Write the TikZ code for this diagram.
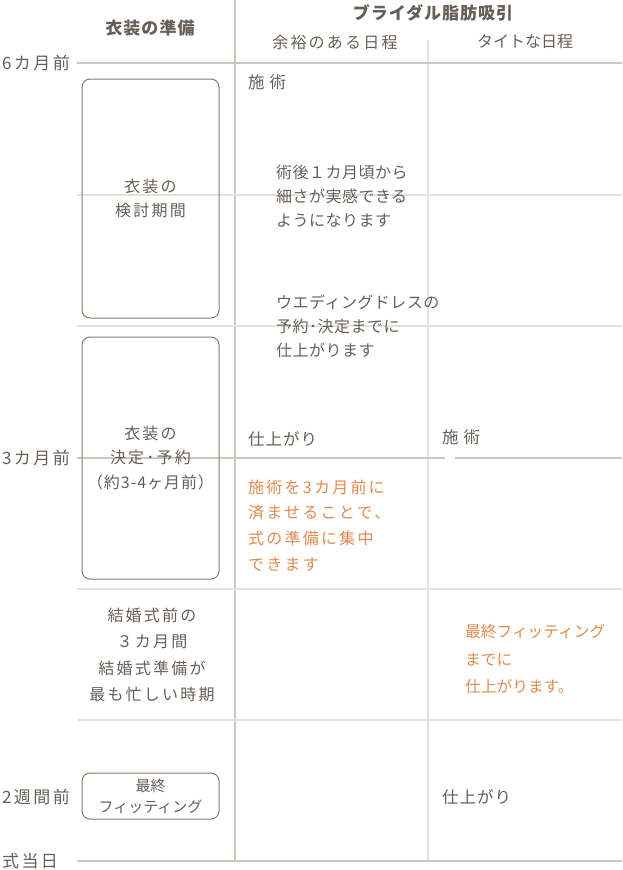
\documentclass[tikz,border=0pt]{standalone}
\usepackage{fontspec}
\setmainfont{Noto Sans CJK JP}
\newfontfamily\jpwide{Noto Sans CJK JP}[LetterSpace=14]
\newfontfamily\jpmid{Noto Sans CJK JP}[LetterSpace=6]
\newfontfamily\jpnote{Noto Sans CJK JP}[LetterSpace=3]
\usetikzlibrary{positioning}
\definecolor{ink}{HTML}{675E56}
\definecolor{lineTan}{HTML}{CEC6BB}
\definecolor{lineGrey}{HTML}{E4E1DD}
\definecolor{boxLine}{HTML}{857868}
\definecolor{accentOrange}{HTML}{E0894F}
\tikzset{%
	mainrule/.style = {lineTan, line width=1.3pt},
	subrule/.style  = {lineGrey, line width=1.2pt},
	period/.style   = {draw=boxLine, rounded corners=8pt, line width=1pt, minimum width=137pt, inner sep=0pt, align=center, text=ink, font=\fontsize{16}{24.5}\selectfont\jpwide},
	note/.style     = {anchor=west, align=left, inner sep=0pt, text=ink, font=\fontsize{16}{24}\selectfont\jpnote},
	accent/.style   = {note, text=accentOrange},
	head/.style     = {inner sep=0pt, text=ink, font=\fontsize{17}{20}\selectfont\jpmid\bfseries},
	sub/.style      = {inner sep=0pt, text=ink, font=\fontsize{16}{20}\selectfont},
	when/.style     = {anchor=west, inner sep=0pt, text=ink, font=\fontsize{17}{20}\selectfont\jpwide},
}

\begin{document}
\begin{tikzpicture}[x=1pt,y=-1pt]
	\useasboundingbox (0,0) rectangle (622,870);
	
	\draw[mainrule] (235,0) -- (235,860);
	\draw[subrule] (428,40) -- (428,860);
	\foreach \y in {195,326,589,720} \draw[subrule] (77,\y) -- (622,\y);
	\foreach \y in {63,861} \draw[mainrule] (77,\y) -- (622,\y);
	\draw[mainrule] (77,458) -- (445,458) (455,458) -- (622,458);
	
	\node[head] (prep) at (150,28) {衣装の準備};
	\node[head] (lipo) at (433,13) {ブライダル脂肪吸引};
	\node[sub, font=\fontsize{16}{20}\selectfont\jpwide] (easy) at (335,42) {余裕のある日程};
	\node[sub] (tight) at (525,42) {タイトな日程};
	
	\node[when] (m6) at (2,63) {6カ月前};
	\node[when] (m3) at (2,458) {3カ月前};
	\node[when] (w2) at (2,797) {2週間前};
	\node[when] (day) at (2,861) {式当日};
	
	\node[period, minimum height=239pt] (review) at (150.5,198.5) {衣装の\\検討期間};
	\node[period, minimum height=242pt] (decide) at (150.5,458) {衣装の\\決定･予約\\{\jpmid （約3-4ヶ月前）}};
	\node[period, minimum height=46pt, font=\fontsize{15}{21}\selectfont] (fitting) at (150.5,796) {最終\\フィッティング};
	\node[sub, align=center, font=\fontsize{16}{26.5}\selectfont\jpwide] (busy) at (152,655) {結婚式前の\\３カ月間\\結婚式準備が\\最も忙しい時期};
	
	% 余裕のある日程
	\node[note, font=\fontsize{16.5}{24}\selectfont] (opA) at (248,82) {施\hspace{5pt}術};
	\node[note] (feelA) at (276,196) {術後１カ月頃から\\細さが実感できる\\ようになります};
	\node[note] (dressA) at (276,326) {ウエディングドレスの\\予約･決定までに\\仕上がります};
	\node[note, font=\fontsize{16.5}{24}\selectfont\jpmid] (doneA) at (248,439) {仕上がり};
	\node[accent, font=\fontsize{16}{25.7}\selectfont\jpwide] (focusA) at (248,525.5) {施術を3カ月前に\\済ませることで、\\式の準備に集中\\できます};
	
	% タイトな日程
	\node[note, font=\fontsize{16.5}{24}\selectfont] (opB) at (442,437) {施\hspace{5pt}術};
	\node[accent, font=\fontsize{15.7}{27.5}\selectfont] (fitB) at (465,659.5) {最終フィッティング\\までに\\仕上がります。};
	\node[note, font=\fontsize{16.5}{24}\selectfont\jpmid] (doneB) at (442,797) {仕上がり};
\end{tikzpicture}
\end{document}
